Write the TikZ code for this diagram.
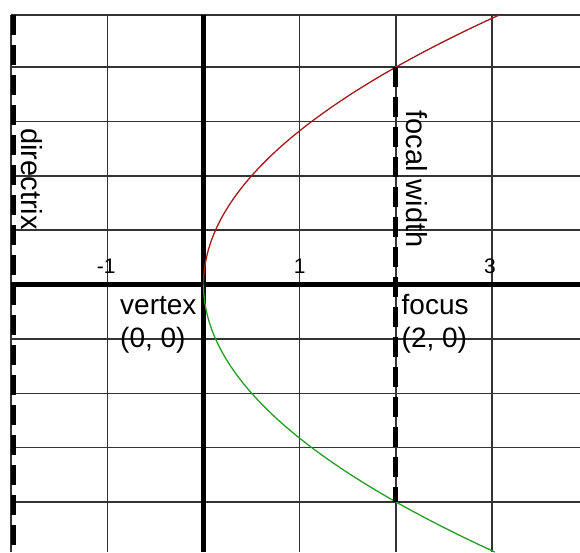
\documentclass[tikz,border=0pt]{standalone}
\usepackage{fontspec}
\setmainfont{Liberation Sans}
\definecolor{curvered}{RGB}{165,25,25}
\definecolor{curvegreen}{RGB}{35,160,35}

\begin{document}
\begin{tikzpicture}[x=96.2pt, y=54.35pt,
      gridline/.style={line width=1.4pt, black!80},
      axis/.style={line width=4.5pt, black},
      dashline/.style={line width=5pt, black, dash pattern=on 20pt off 10pt},
      upper/.style={line width=1.3pt, curvered},
      lower/.style={line width=1.3pt, curvegreen},
      lbl/.style={inner sep=0pt, align=left, anchor=base west,
                  font=\fontsize{28}{33}\selectfont},
      vlbl/.style={inner sep=0pt, rotate=-90, anchor=base,
                   font=\fontsize{29}{33}\selectfont},
      tick/.style={inner sep=0pt, anchor=base east,
                   font=\fontsize{21}{25}\selectfont},
    ]
    \useasboundingbox (-203.5pt,-267.5pt) rectangle (376.5pt,284.5pt);

    \foreach \x in {-2,...,3}
      \draw[gridline] (\x,-4.922) -- (\x,4.96);
    \foreach \y in {-4,...,4}
      \draw[gridline] (-2,\y) -- (3.914,\y);
    \draw[gridline] (-2,4.96) -- (3.914,4.96);

    \draw[axis] (-2,0) -- (3.914,0);
    \draw[axis] (0,-4.922) -- (0,4.96);

    \draw[upper] plot[domain=0:4.96, samples=80, smooth] ({\x*\x/8},\x);
    \draw[lower] plot[domain=0:-4.922, samples=80, smooth] ({\x*\x/8},\x);

    \coordinate (V) at (0,0);
    \coordinate (F) at (2,0);
    \coordinate (Ltop) at (2,4);
    \coordinate (Lbot) at (2,-4);
    \coordinate (Dtop) at (-1.974,4.96);
    \coordinate (Dbot) at (-1.974,-4.922);

    \draw[dashline] (Ltop) -- (Lbot);
    \draw[dashline, line width=4.7pt] (Dtop) -- (Dbot);

    \foreach \x/\dx in {-1/8.5, 1/6, 3/4}
      \node[tick, xshift=\dx pt, yshift=11.2pt] (tick\x) at (\x,0) {\x};

    \node[vlbl] (directrix) at (-1.887,1.94) {directrix};
    \node[vlbl] (focalwidth) at (2.115,1.94) {focal width};
    \node[lbl] (vertex) at (-0.868,-1.15) {vertex\\(0, 0)};
    \node[lbl] (focus) at (2.058,-1.15) {focus\\(2, 0)};
  \end{tikzpicture}
\end{document}
